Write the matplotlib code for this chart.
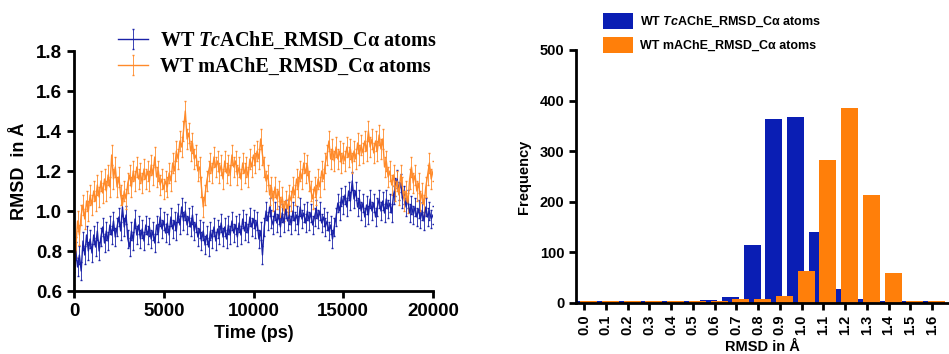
import matplotlib
matplotlib.use("Agg")
import matplotlib.pyplot as plt
import numpy as np

plt.rcParams['font.family'] = ['Liberation Sans', 'DejaVu Sans']
plt.rcParams['mathtext.fontset'] = 'custom'
plt.rcParams['mathtext.it'] = 'Liberation Serif:italic:bold'
plt.rcParams['mathtext.bf'] = 'Liberation Sans:italic:bold'

# ---- RMSD time series (every 100 ps) ----
time_ps = list(range(0, 20001, 100))
rmsd_tc = [0.65, 0.80, 0.72, 0.78, 0.70, 0.85, 0.78, 0.88, 0.80, 0.86, 0.79,
           0.88, 0.82, 0.90, 0.80, 0.87, 0.92, 0.84, 0.90, 0.85, 0.93,
           0.88, 0.95, 0.87, 0.92, 0.97, 0.90, 1.02, 0.92, 0.98, 0.86,
           0.82, 0.90, 0.85, 0.96, 0.88, 0.93, 0.86, 0.91, 0.85, 0.93,
           0.88, 0.92, 0.86, 0.90, 0.84, 0.93, 0.89, 0.97, 0.91, 0.95,
           0.89, 0.94, 0.88, 0.97, 0.91, 0.95, 0.90, 0.99, 0.93, 1.02,
           0.95, 1.00, 0.93, 0.97, 0.92, 0.98, 0.90, 0.94, 0.87, 0.91,
           0.85, 0.90, 0.83, 0.88, 0.82, 0.90, 0.86, 0.92, 0.85, 0.91,
           0.88, 0.94, 0.87, 0.92, 0.86, 0.93, 0.88, 0.95, 0.89, 0.93,
           0.87, 0.94, 0.88, 0.96, 0.90, 0.94, 0.89, 0.97, 0.92, 0.96,
           0.91, 0.95, 0.86, 0.90, 0.78, 0.92, 1.00, 0.95, 1.02, 0.96,
           0.93, 1.00, 0.94, 0.98, 0.92, 0.99, 0.94, 1.01, 0.95, 0.98,
           0.93, 1.00, 0.95, 0.98, 0.93, 1.02, 0.96, 0.99, 0.94, 1.00,
           0.95, 0.99, 0.93, 0.97, 1.01, 0.96, 1.00, 0.94, 0.97, 0.92,
           0.95, 0.90, 0.93, 0.86, 0.92, 0.97, 1.04, 1.00, 1.07, 1.03,
           1.08, 1.02, 1.10, 1.05, 1.15, 1.06, 1.10, 1.02, 1.06, 1.00,
           1.04, 0.97, 1.03, 0.98, 1.06, 1.00, 1.04, 0.97, 1.02, 1.06,
           1.00, 1.05, 0.99, 1.06, 1.01, 1.04, 0.99, 1.08, 1.12, 1.16,
           1.10, 1.14, 1.06, 1.08, 1.02, 1.06, 0.99, 1.03, 0.98, 1.02,
           0.97, 1.01, 0.96, 1.00, 0.95, 1.02, 0.97, 1.00, 0.96, 0.98]
rmsd_m = [0.68, 0.82, 0.95, 0.88, 0.98, 1.03, 0.96, 1.05, 1.00, 1.08, 1.03,
          1.10, 1.05, 1.13, 1.07, 1.15, 1.09, 1.16, 1.10, 1.18, 1.12,
          1.28, 1.16, 1.22, 1.12, 1.17, 1.08, 1.03, 1.10, 1.06, 1.14,
          1.18, 1.12, 1.20, 1.15, 1.22, 1.16, 1.19, 1.14, 1.21, 1.16,
          1.20, 1.15, 1.23, 1.18, 1.27, 1.17, 1.20, 1.13, 1.16, 1.11,
          1.15, 1.12, 1.19, 1.15, 1.24, 1.20, 1.30, 1.26, 1.35, 1.32,
          1.40, 1.50, 1.36, 1.39, 1.30, 1.34, 1.26, 1.28, 1.20, 1.22,
          1.12, 1.02, 1.08, 1.15, 1.20, 1.24, 1.19, 1.27, 1.22, 1.25,
          1.19, 1.23, 1.16, 1.25, 1.19, 1.23, 1.18, 1.28, 1.22, 1.25,
          1.18, 1.22, 1.16, 1.24, 1.19, 1.22, 1.17, 1.26, 1.22, 1.28,
          1.24, 1.30, 1.26, 1.36, 1.28, 1.22, 1.15, 1.18, 1.08, 1.12,
          1.05, 1.12, 1.06, 1.10, 1.02, 1.07, 1.00, 1.05, 1.01, 1.08,
          1.05, 1.12, 1.08, 1.16, 1.12, 1.20, 1.16, 1.24, 1.19, 1.23,
          1.15, 1.10, 1.06, 1.12, 1.08, 1.16, 1.12, 1.20, 1.16, 1.24,
          1.28, 1.35, 1.26, 1.31, 1.25, 1.32, 1.26, 1.30, 1.24, 1.29,
          1.25, 1.32, 1.27, 1.31, 1.24, 1.30, 1.26, 1.34, 1.28, 1.33,
          1.29, 1.35, 1.30, 1.40, 1.32, 1.36, 1.29, 1.35, 1.30, 1.38,
          1.31, 1.36, 1.22, 1.25, 1.17, 1.20, 1.13, 1.18, 1.10, 1.15,
          1.08, 1.18, 1.12, 1.05, 1.10, 1.04, 1.16, 1.22, 1.14, 1.18,
          1.10, 1.14, 1.05, 1.09, 1.03, 1.12, 1.18, 1.24, 1.16, 1.20]
err_tc = 0.045
err_m = 0.05

# ---- RMSD histogram ----
bins = [0.0, 0.1, 0.2, 0.3, 0.4, 0.5, 0.6, 0.7, 0.8, 0.9, 1.0, 1.1, 1.2, 1.3, 1.4, 1.5, 1.6]
bin_labels = ['%.1f' % b for b in bins]
freq_tc = [4, 4, 4, 4, 4, 4, 5, 12, 115, 363, 367, 140, 27, 7, 4, 4, 4]
freq_m = [4, 4, 4, 4, 4, 4, 4, 7, 7, 13, 63, 283, 386, 213, 60, 4, 4]

blue_line = '#1a22a8'
orange_line = '#ff8a2a'
blue_bar = '#0a1eb4'
orange_bar = '#ff7f0a'

fig = plt.figure(figsize=(9.49, 3.54), dpi=100)

# Left panel: time series
ax1 = fig.add_axes([74/949, 1-291/354, (433-74)/949, (291-51)/354])
ax1.errorbar(time_ps, rmsd_tc, yerr=err_tc, color=blue_line, lw=1.0,
             elinewidth=0.6, capsize=0.8, label='WT $\\mathit{Tc}$AChE_RMSD_C\u03b1 atoms')
ax1.errorbar(time_ps, rmsd_m, yerr=err_m, color=orange_line, lw=1.0,
             elinewidth=0.6, capsize=0.8, label='WT mAChE_RMSD_C\u03b1 atoms')
ax1.set_xlim(0, 20000)
ax1.set_ylim(0.6, 1.8)
ax1.set_xticks([0, 5000, 10000, 15000, 20000])
ax1.set_yticks([0.6, 0.8, 1.0, 1.2, 1.4, 1.6, 1.8])
ax1.set_yticklabels(['%.1f' % v for v in ax1.get_yticks()])
ax1.set_xlabel('Time (ps)', fontsize=13, fontweight='bold', labelpad=4)
ax1.set_ylabel('RMSD  in \u00c5', fontsize=13, fontweight='bold', labelpad=6)
for lab in ax1.get_xticklabels() + ax1.get_yticklabels():
    lab.set_fontweight('bold')
    lab.set_fontsize(13.5)
ax1.legend(loc='upper left', bbox_to_anchor=(118/949, 1-30/354),
           bbox_transform=fig.transFigure, frameon=False,
           prop={'family': 'Liberation Serif', 'weight': 'bold', 'size': 14.5},
           handlelength=1.5, handletextpad=0.6, labelspacing=0.3,
           borderpad=0, borderaxespad=0)

# Right panel: histogram
ax2 = fig.add_axes([576/949, 1-303/354, (949-576)/949, (303-50)/354])
x = np.array(bins)
ax2.bar(x - 0.027, freq_tc, width=0.078, color=blue_bar, label='WT $\\mathbf{Tc}$AChE_RMSD_C\u03b1 atoms')
ax2.bar(x + 0.021, freq_m, width=0.078, color=orange_bar, label='WT mAChE_RMSD_C\u03b1 atoms')
ax2.set_xlim(-0.037, 1.678)
ax2.set_ylim(0, 500)
ax2.set_xticks(bins)
ax2.set_xticklabels(bin_labels, rotation=90, fontsize=10.5, fontweight='bold')
ax2.set_yticks([0, 100, 200, 300, 400, 500])
for lab in ax2.get_yticklabels():
    lab.set_fontweight('bold')
    lab.set_fontsize(10.5)
ax2.set_xlabel('RMSD in \u00c5', fontsize=10.5, fontweight='bold', labelpad=3)
ax2.set_ylabel('Frequency', fontsize=10.5, fontweight='bold', labelpad=6)
ax2.legend(loc='upper left', bbox_to_anchor=(603/949, 1-13/354),
           bbox_transform=fig.transFigure, frameon=False,
           prop={'weight': 'bold', 'size': 9},
           handlelength=2.4, handleheight=1.6, handletextpad=0.6,
           labelspacing=0.6, borderpad=0, borderaxespad=0)

for ax in (ax1, ax2):
    for side in ('top', 'right'):
        ax.spines[side].set_visible(False)
    for side in ('left', 'bottom'):
        ax.spines[side].set_linewidth(2.0)
    ax.tick_params(direction='out', width=2.0, length=5)

fig.savefig('out.png', dpi=100)
